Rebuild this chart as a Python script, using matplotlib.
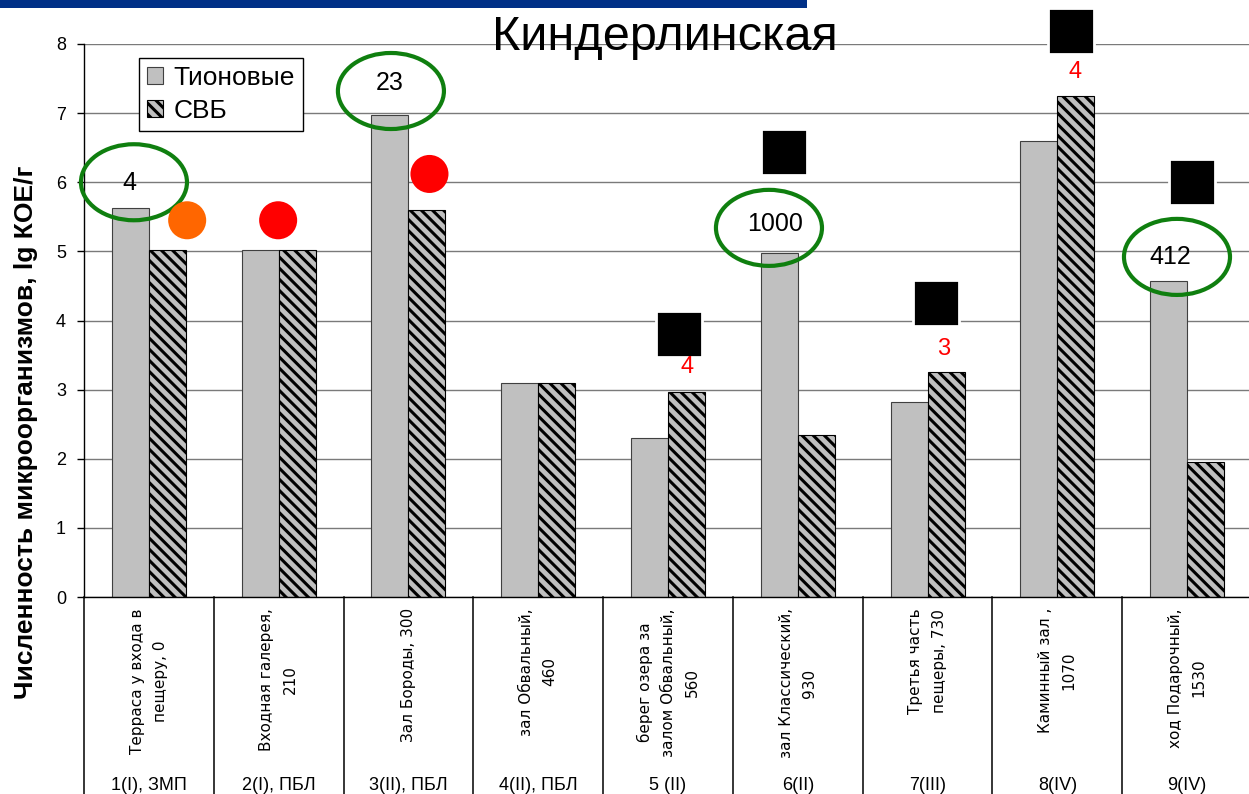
import matplotlib
matplotlib.use('Agg')
import matplotlib.pyplot as plt
from matplotlib.patches import Ellipse, Rectangle
from matplotlib.transforms import blended_transform_factory
import numpy as np

plt.rcParams['font.family'] = ['Liberation Sans', 'DejaVu Sans']
plt.rcParams['hatch.linewidth'] = 2.2

# sampling points: place name with distance from the entrance, and zone
places = ["Терраса у входа в\nпещеру, 0", "Входная галерея,\n210", "Зал Бороды, 300",
          "зал Обвальный,\n460", "берег озера за\nзалом Обвальный,\n560",
          "зал Классический,\n930", "Третья часть\nпещеры, 730",
          "Каминный зал ,\n1070", "ход Подарочный,\n1530"]
zones = ["1(I), ЗМП", "2(I), ПБЛ", "3(II), ПБЛ", "4(II), ПБЛ", "5 (II)",
         "6(II)", "7(III)", "8(IV)", "9(IV)"]

# lg CFU/g
thionic = [5.63, 5.02, 6.98, 3.10, 2.30, 4.98, 2.82, 6.60, 4.57]
srb = [5.02, 5.02, 5.60, 3.10, 2.96, 2.34, 3.25, 7.25, 1.95]

# circled counts: ellipse centre (x, y), text position (x, y), text
ring_x = [-0.115, 1.865, 4.778, 7.922]
ring_y = [6.00, 7.32, 5.34, 4.92]
ring_tx = [-0.153, 1.857, 4.824, 7.868]
ring_ty = [5.99, 7.44, 5.40, 4.92]
ring_text = ["4", "23", "1000", "412"]

# coloured dots
dot_x = [0.295, 0.996, 2.162]
dot_y = [5.45, 5.45, 6.12]
dot_c = ["#ff6600", "#ff0000", "#ff0000"]

# black squares
sq_x = [4.084, 4.894, 6.065, 7.109, 8.041]
sq_y = [3.81, 6.44, 4.25, 8.19, 6.01]

# red numbers under squares
note_x = [4.146, 6.126, 7.136]
note_y = [3.33, 3.59, 7.60]
note_text = ["4", "3", "4"]

W, H = 1249, 794
fig = plt.figure(figsize=(W / 100, H / 100), dpi=100)
ax = fig.add_axes([84 / W, 197 / H, 1168 / W, 553 / H])

x = np.arange(len(places))
bw = 0.285
ax.bar(x - bw / 2, thionic, bw, color="#c0c0c0", edgecolor="#404040", lw=0.8,
       label="Тионовые", zorder=2)
ax.bar(x + bw / 2, srb, bw, color="#c0c0c0", edgecolor="black", lw=0.8,
       hatch="\\\\\\", label="СВБ", zorder=2)

ax.set_xlim(-0.5, len(places) - 0.5)
ax.set_ylim(0, 8)
ax.set_yticks(range(9))
ax.set_axisbelow(True)
ax.yaxis.grid(True, color="#7a7a7a", lw=1.0)
ax.set_xticks([])
ax.tick_params(axis="y", direction="out", length=5, width=1, pad=8,
               labelsize=13, color="black")
for s in ["top", "right"]:
    ax.spines[s].set_visible(False)
ax.spines["left"].set_linewidth(1)
ax.spines["bottom"].set_linewidth(1)

# category table under the axis
tr = blended_transform_factory(ax.transData, ax.transAxes)
low = -197 / 553
for b in np.arange(-0.5, len(places), 1.0):
    ax.plot([b, b], [0, low], transform=tr, color="black", lw=1.1, clip_on=False)
for i, (p, z) in enumerate(zip(places, zones)):
    ax.text(i, -0.02, p, transform=tr, rotation=90, ha="center", va="top",
            multialignment="center", fontsize=11, linespacing=1.7,
            family="DejaVu Sans")
    ax.text(i, -0.34, z, transform=tr, ha="center", va="center", fontsize=13)

leg = ax.legend(loc="upper left", bbox_to_anchor=(0.047, 0.975), borderaxespad=0,
                fontsize=19, handlelength=0.62, handleheight=0.62,
                handletextpad=0.4, labelspacing=0.35, borderpad=0.3,
                fancybox=False, framealpha=1, edgecolor="black")
leg.get_frame().set_linewidth(1)

# annotations
for ex, ey, tx, ty, t in zip(ring_x, ring_y, ring_tx, ring_ty, ring_text):
    ax.add_patch(Ellipse((ex, ey), 0.817, 1.10, fill=False, edgecolor="#0f7f0f",
                         lw=3, zorder=5, clip_on=False))
    ax.text(tx, ty, t, ha="center", va="center", fontsize=18, zorder=6)

ax.scatter(dot_x, dot_y, s=750, c=dot_c, marker="o", linewidths=0, zorder=5)
ax.scatter(sq_x, sq_y, s=33 ** 2, c="black", marker="s", edgecolors="white",
           linewidths=2, zorder=5, clip_on=False)
for nx, ny, t in zip(note_x, note_y, note_text):
    ax.text(nx, ny, t, ha="center", va="center", fontsize=17, color="#ff0000",
            zorder=6)

fig.text(26 / W, 1 - 432 / H, "Численность микроорганизмов, lg КОЕ/г",
         rotation=90, ha="center", va="center", fontsize=19, fontweight="bold")

# header strip and title
fig.add_artist(Rectangle((0, 1 - 7.5 / H), 807 / W, 7.5 / H,
                         transform=fig.transFigure, color="#003087", lw=0))
fig.text(665 / W, 1 - 50 / H, "Киндерлинская", ha="center", va="baseline",
         fontsize=35, zorder=10)

fig.savefig("out.png", dpi=100)
